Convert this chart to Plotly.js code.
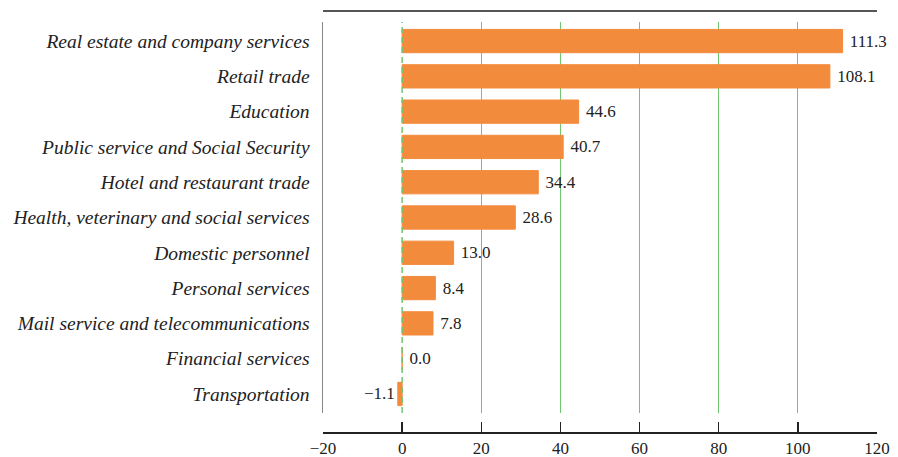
<!DOCTYPE html>
<html>
<head>
<meta charset="utf-8">
<script src="https://cdn.plot.ly/plotly-3.0.1.min.js"></script>
<style>html,body{margin:0;padding:0;background:#fff;}#chart{width:898px;height:457px;}</style>
</head>
<body>
<div id="chart"></div>
<script>
const categories = [
  "Real estate and company services",
  "Retail trade",
  "Education",
  "Public service and Social Security",
  "Hotel and restaurant trade",
  "Health, veterinary and social services",
  "Domestic personnel",
  "Personal services",
  "Mail service and telecommunications",
  "Financial services",
  "Transportation"
];
const values = [111.3, 108.1, 44.6, 40.7, 34.4, 28.6, 13.0, 8.4, 7.8, 0.0, -1.1];
const xTicks = [-20, 0, 20, 40, 60, 80, 100, 120];

const labels = values.map(v => v < 0 ? '\u2212' + Math.abs(v).toFixed(1) : '\u00a0' + v.toFixed(1));

const serif = 'Liberation Serif';
const orange = '#F38B3D';
const green = '#72C672';

const trace = {
  type: 'bar',
  orientation: 'h',
  y: categories,
  x: values,
  text: labels,
  textposition: 'outside',
  constraintext: 'none',
  cliponaxis: false,
  textfont: {family: serif, size: 17, color: '#222'},
  marker: {color: orange, line: {color: orange, width: 1}},
  hoverinfo: 'skip'
};

const plotH = 410;
const layout = {
  width: 898,
  height: 457,
  margin: {l: 323, r: 21, t: 22, b: 25, pad: 0},
  paper_bgcolor: '#fff',
  plot_bgcolor: '#fff',
  showlegend: false,
  bargap: 0.34,
  font: {family: serif, color: '#222'},
  xaxis: {
    range: [-20, 120],
    tickvals: xTicks,
    ticktext: xTicks.map(t => t < 0 ? '\u2212' + Math.abs(t) : String(t)),
    showgrid: true,
    gridcolor: green,
    gridwidth: 1,
    zeroline: true,
    zerolinecolor: 'rgba(0,0,0,0)',
    showline: true,
    linecolor: '#222',
    linewidth: 1.5,
    ticks: 'inside',
    ticklen: 10,
    tickwidth: 1.5,
    tickcolor: '#222',
    tickfont: {family: serif, size: 17, color: '#222'},
    anchor: 'free',
    position: 0,
    fixedrange: true
  },
  yaxis: {
    type: 'category',
    categoryorder: 'array',
    categoryarray: categories,
    range: [10.54, -0.54],
    domain: [19 / plotH, 1],
    showgrid: false,
    zeroline: false,
    showline: true,
    linecolor: '#888',
    linewidth: 1.5,
    ticks: '',
    ticklabelstandoff: 8,
    tickfont: {family: serif, size: 19.5, color: '#222', style: 'italic'},
    fixedrange: true
  },
  shapes: [
    {type: 'line', xref: 'x', yref: 'y domain', x0: 0, x1: 0, y0: 0, y1: 1,
     line: {color: green, width: 1.5, dash: '6px,4px'}, layer: 'above'},
    {type: 'line', xref: 'paper', yref: 'paper', x0: 0, x1: 1, y0: 1 + 11 / plotH, y1: 1 + 11 / plotH,
     line: {color: '#555', width: 2}}
  ]
};

Plotly.newPlot('chart', [trace], layout, {displayModeBar: false, staticPlot: true});
</script>
</body>
</html>
